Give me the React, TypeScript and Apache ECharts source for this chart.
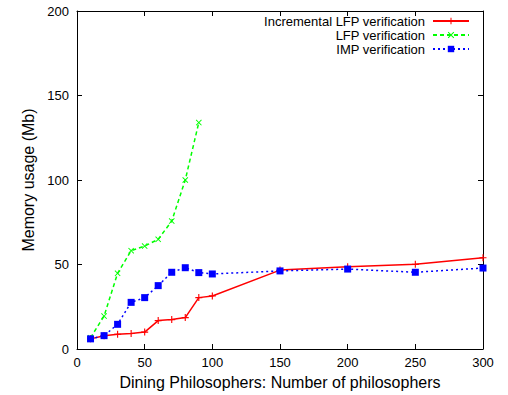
import React, { useEffect, useRef } from "react";
import * as echarts from "echarts";

const philosophers = [10, 20, 30, 40, 50, 60, 70, 80, 90, 100, 150, 200, 250, 300];
const incrementalLFP = [6, 7.9, 8.7, 9.2, 10, 16.8, 17.4, 18.6, 30.4, 31.4, 46.7, 48.7, 50.1, 54];
const lfpPhilosophers = [10, 20, 30, 40, 50, 60, 70, 80, 90];
const lfp = [6.7, 19.5, 44.8, 58.2, 60.9, 64.9, 75.7, 100, 134];
const imp = [6, 7.9, 14.6, 27.6, 30.4, 37.5, 45.4, 48.1, 45.2, 44.4, 46.2, 47.3, 45.4, 47.9];

const seriesNames = ["Incremental LFP verification", "LFP verification", "IMP verification"];
const xTitle = "Dining Philosophers: Number of philosophers";
const yTitle = "Memory usage (Mb)";

const PLUS = "path://M0,4.2H10V5.8H0Z M4.2,0H5.8V10H4.2Z";
const CROSS = "path://M0,1.1L1.1,0L5,3.9L8.9,0L10,1.1L6.1,5L10,8.9L8.9,10L5,6.1L1.1,10L0,8.9L3.9,5Z";
const SQX = "path://M1,1H9V9H1Z";

export default function App() {
  const ref = useRef<HTMLDivElement>(null);
  useEffect(() => {
    if (!ref.current) return;
    document.body.style.margin = "0";
    const chart = echarts.init(ref.current, null, { renderer: "svg", width: 508, height: 395 });
    const font = "'Liberation Sans', Arial, sans-serif";
    const pairs = (xs: number[], ys: number[]) => ys.map((y, i) => [xs[i], y]);
    const axisCommon = {
      axisLine: { show: true, onZero: false, lineStyle: { color: "#000", width: 1 } },
      axisTick: { show: true, inside: true, length: 5, lineStyle: { color: "#000" } },
      splitLine: { show: false },
    };
    chart.setOption({
      animation: false,
      backgroundColor: "#fff",
      textStyle: { fontFamily: font },
      grid: { left: 77, right: 25, top: 11, bottom: 46, show: false },
      graphic: [
        {
          type: "text",
          x: 280,
          y: 382,
          style: { text: xTitle, fontFamily: font, fontSize: 16, fill: "#000", align: "center", verticalAlign: "middle" },
        },
        {
          type: "text",
          x: 28,
          y: 180,
          rotation: Math.PI / 2,
          style: { text: yTitle, fontFamily: font, fontSize: 16, fill: "#000", align: "center", verticalAlign: "middle" },
        },
      ],
      legend: {
        orient: "vertical",
        right: 33,
        top: 9,
        align: "right",
        itemWidth: 36,
        itemHeight: 8,
        itemGap: 0,
        textStyle: { fontFamily: font, fontSize: 13, lineHeight: 14, color: "#000", padding: [0, 3, 0, 0] },
        data: seriesNames,
      },
      xAxis: [
        {
          type: "value",
          min: 0,
          max: 300,
          interval: 50,
          position: "bottom",
          axisLabel: { fontFamily: font, fontSize: 13, color: "#000", margin: 7 },
          ...axisCommon,
        },
        {
          type: "value",
          min: 0,
          max: 300,
          interval: 50,
          position: "top",
          axisLabel: { show: false },
          ...axisCommon,
        },
      ],
      yAxis: [
        {
          type: "value",
          min: 0,
          max: 200,
          interval: 50,
          position: "left",
          axisLabel: { fontFamily: font, fontSize: 13, color: "#000", margin: 8 },
          ...axisCommon,
        },
        {
          type: "value",
          min: 0,
          max: 200,
          interval: 50,
          position: "right",
          axisLabel: { show: false },
          ...axisCommon,
        },
      ],
      series: [
        {
          name: seriesNames[0],
          type: "line",
          data: pairs(philosophers, incrementalLFP),
          symbol: PLUS,
          symbolSize: 7,
          lineStyle: { color: "#ff0000", width: 1.5, type: "solid" },
          itemStyle: { color: "#ff0000" },
        },
        {
          name: seriesNames[1],
          type: "line",
          data: pairs(lfpPhilosophers, lfp),
          symbol: CROSS,
          symbolSize: 6,
          lineStyle: { color: "#00ff00", width: 1.5, type: [4, 3] },
          itemStyle: { color: "#00ff00" },
        },
        {
          name: seriesNames[2],
          type: "line",
          data: pairs(philosophers, imp),
          symbol: SQX,
          symbolSize: 7,
          lineStyle: { color: "#0000ff", width: 1.5, type: [2, 3] },
          itemStyle: { color: "#0000ff" },
        },
      ],
    });
    return () => chart.dispose();
  }, []);
  return <div ref={ref} style={{ width: 508, height: 395 }} />;
}
